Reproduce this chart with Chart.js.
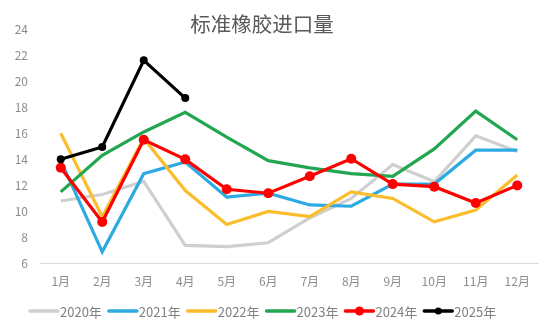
<!DOCTYPE html>
<html><head><meta charset="utf-8">
<script src="https://cdn.jsdelivr.net/npm/chart.js@4/dist/chart.umd.min.js"></script>
<style>html,body{margin:0;padding:0;background:#fff}#wrap{width:550px;height:329px}</style>
</head><body><div id="wrap"><canvas id="c"></canvas></div>
<script>
const title = '标准橡胶进口量';
const months = ['1月','2月','3月','4月','5月','6月','7月','8月','9月','10月','11月','12月'];
const yTicks = [6, 8, 10, 12, 14, 16, 18, 20, 22, 24];
const y2020 = [10.8, 11.3, 12.3, 7.4, 7.3, 7.6, 9.5, 11.0, 13.6, 12.3, 15.8, 14.6];
const y2021 = [13.9, 6.9, 12.9, 13.8, 11.1, 11.4, 10.5, 10.4, 12.1, 12.1, 14.7, 14.7];
const y2022 = [16.0, 9.6, 15.6, 11.6, 9.0, 10.0, 9.6, 11.5, 11.0, 9.2, 10.1, 12.8];
const y2023 = [11.5, 14.3, 16.1, 17.6, 15.7, 13.9, 13.35, 12.9, 12.7, 14.8, 17.7, 15.5];
const y2024 = [13.35, 9.2, 15.5, 14.0, 11.7, 11.4, 12.7, 14.05, 12.1, 11.9, 10.65, 12.0];
const y2025 = [14.0, 14.95, 21.6, 18.7];
const seriesNames = ['2020年','2021年','2022年','2023年','2024年','2025年'];
const seriesData = [y2020, y2021, y2022, y2023, y2024, y2025];
const colors = ['#cfcfcf', '#2eaae2', '#fbbd2b', '#22a64f', '#ff0000', '#000000'];
const pointR = [0, 0, 0, 0, 5, 4];

const FONT = '"Noto Sans CJK SC", "Noto Sans", sans-serif';

const datasets = seriesNames.map((n, i) => ({
  label: n,
  data: seriesData[i],
  borderColor: colors[i],
  backgroundColor: colors[i],
  borderWidth: 3.2,
  pointRadius: pointR[i],
  pointHoverRadius: pointR[i],
  pointBorderWidth: 0,
  tension: 0,
  order: seriesNames.length - 1 - i,
  fill: false
}));

const customDraw = {
  id: 'customDraw',
  afterDraw(chart) {
    const ctx = chart.ctx;
    ctx.save();
    ctx.fillStyle = '#595959';
    ctx.font = '20.5px ' + FONT;
    ctx.textAlign = 'center';
    ctx.textBaseline = 'middle';
    ctx.fillText(title, 262, 24);
    ctx.font = '13px ' + FONT;
    ctx.textAlign = 'left';
    let x = 29;
    const y = 311;
    seriesNames.forEach((n, i) => {
      ctx.strokeStyle = colors[i];
      ctx.lineWidth = 3.5;
      ctx.lineCap = 'round';
      ctx.beginPath();
      ctx.moveTo(x + 1, y);
      ctx.lineTo(x + 29, y);
      ctx.stroke();
      if (pointR[i] > 0) {
        ctx.fillStyle = colors[i];
        ctx.beginPath();
        ctx.arc(x + 15, y, pointR[i] - 0.5, 0, Math.PI * 2);
        ctx.fill();
      }
      ctx.fillStyle = '#808080';
      ctx.fillText(n, x + 31, y + 1);
      x += 31 + ctx.measureText(n).width + 6;
    });
    ctx.restore();
  }
};

new Chart(document.getElementById('c'), {
  type: 'line',
  data: { labels: months, datasets },
  options: {
    responsive: true,
    maintainAspectRatio: false,
    animation: false,
    events: [],
    layout: { padding: { top: 29, right: 12, bottom: 29, left: 0 } },
    plugins: { legend: { display: false }, title: { display: false }, tooltip: { enabled: false } },
    scales: {
      x: {
        offset: true,
        grid: { display: false, drawTicks: false },
        border: { display: true, color: '#d9d9d9', width: 1 },
        ticks: { color: '#8c8c8c', font: { size: 12, family: FONT }, padding: 11, maxRotation: 0, autoSkip: false }
      },
      y: {
        min: 6, max: 24,
        afterBuildTicks(scale) { scale.ticks = yTicks.map(v => ({ value: v })); },
        afterFit(scale) { scale.width = 40; },
        grid: { display: false, drawTicks: false },
        border: { display: false },
        ticks: { color: '#8c8c8c', font: { size: 12, family: FONT }, padding: 12 }
      }
    }
  },
  plugins: [customDraw]
});
</script></body></html>
